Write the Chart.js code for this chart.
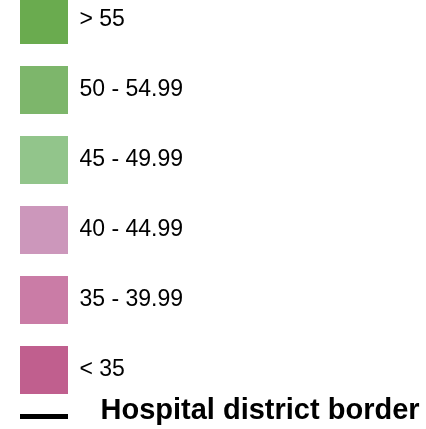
<!DOCTYPE html>
<html>
<head>
<meta charset="utf-8">
<script src="https://cdn.jsdelivr.net/npm/chart.js@4.4.1/dist/chart.umd.min.js"></script>
<style>
html, body { margin: 0; padding: 0; background: #fff; }
#wrap { position: relative; width: 426px; height: 429px; overflow: hidden; background: #fff; }
#classes { position: absolute; left: 0; top: 0; }
#border { position: absolute; left: 20px; top: 396px; }
</style>
</head>
<body>
<div id="wrap">
  <canvas id="classes" width="426" height="396"></canvas>
  <canvas id="border" width="406" height="33"></canvas>
</div>
<script>
// legend classes (top to bottom)
let classLabels = ['> 55', '50 - 54.99', '45 - 49.99', '40 - 44.99', '35 - 39.99', '< 35'];
let classColors = ['#6aab4f', '#7db66b', '#92c58b', '#cc97bb', '#ca7ca6', '#c05f8e'];

// border line entry
let borderLabel = 'Hospital district border';
let borderColor = '#000000';

Chart.defaults.font.family = '"Liberation Sans", Arial, sans-serif';

var ctx = document.getElementById('classes').getContext('2d');
var chart = new Chart(ctx, {
    type: 'bar',
    data: {
        labels: [],
        datasets: classLabels.map((l, i) => ({
            label: l,
            data: [],
            backgroundColor: classColors[i],
            borderWidth: 0
        }))
    },
    options: {
        responsive: false,
        animation: false,
        events: [],
        // negative padding lets the top box run off the edge like in the source
        layout: { padding: { left: -2, top: -26, right: 0, bottom: -30 } },
        scales: {
            x: { display: false },
            y: { display: false }
        },
        plugins: {
            tooltip: { enabled: false },
            legend: {
                position: 'left',
                align: 'start',
                labels: {
                    boxWidth: 48,
                    boxHeight: 48,
                    padding: 22,
                    color: '#2b2b2b',
                    font: { size: 23 },
                    generateLabels: function (c) {
                        return classLabels.map((l, i) => ({
                            text: l,
                            fillStyle: classColors[i],
                            strokeStyle: classColors[i],
                            lineWidth: 0,
                            hidden: false,
                            datasetIndex: i
                        }));
                    }
                }
            }
        }
    }
});

// small line symbol for the border entry
const mark = document.createElement('canvas');
mark.width = 66;
mark.height = 29;
const m = mark.getContext('2d');
m.fillStyle = borderColor;
m.fillRect(0, 18, 48, 5);

var ctx2 = document.getElementById('border').getContext('2d');
var chart2 = new Chart(ctx2, {
    type: 'bar',
    data: {
        labels: [],
        datasets: [{ label: borderLabel, data: [], borderColor: borderColor, borderWidth: 5 }]
    },
    options: {
        responsive: false,
        animation: false,
        events: [],
        layout: { padding: { left: 0, top: 0, right: 0, bottom: -30 } },
        scales: {
            x: { display: false },
            y: { display: false }
        },
        plugins: {
            tooltip: { enabled: false },
            legend: {
                position: 'top',
                align: 'start',
                labels: {
                    usePointStyle: true,
                    pointStyleWidth: 66,
                    padding: 0,
                    color: '#333333',
                    font: { size: 29, weight: 'bold' },
                    generateLabels: function (c) {
                        return [{
                            text: borderLabel,
                            fillStyle: borderColor,
                            strokeStyle: borderColor,
                            lineWidth: 0,
                            pointStyle: mark,
                            hidden: false,
                            datasetIndex: 0
                        }];
                    }
                }
            }
        }
    }
});
</script>
</body>
</html>
